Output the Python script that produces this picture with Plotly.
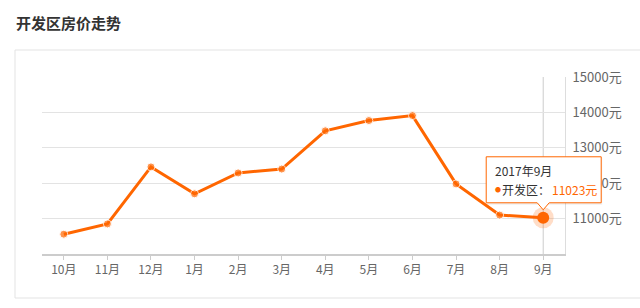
import plotly.graph_objects as go

months = ["10月", "11月", "12月", "1月", "2月", "3月", "4月", "5月", "6月", "7月", "8月", "9月"]
prices = [10560, 10850, 12460, 11700, 12290, 12400, 13480, 13770, 13910, 11980, 11100, 11023]
y_ticks = [11000, 12000, 13000, 14000, 15000]
y_tick_text = ["11000元", "12000元", "13000元", "14000元", "15000元"]
title_text = "开发区房价走势"
tip_date = "2017年9月"
tip_name = "开发区："

ORANGE = "#ff6600"
FONT = "Noto Sans CJK SC, Microsoft YaHei, sans-serif"

W, H = 640, 308
L, R, T, B = 42, 75, 77, 54
pw, ph = W - L - R, H - T - B
Y_MIN, Y_MAX = 10000, 15000

def px_x(p):
    return (p - L) / pw

def px_y(p):
    return (H - B - p) / ph

n = len(months)
hi = n - 1
# tooltip anchor in paper coordinates, derived from the data point
ax_paper = (hi + 0.5) / n
ay_paper = (prices[hi] - Y_MIN) / (Y_MAX - Y_MIN)

fig = go.Figure()
fig.add_trace(go.Scatter(
    x=list(range(n)), y=prices, mode="lines+markers",
    line=dict(color=ORANGE, width=3),
    marker=dict(color=ORANGE, size=[8] * hi + [0]),
    hoverinfo="skip", showlegend=False, cliponaxis=False,
))
fig.add_trace(go.Scatter(
    x=[hi], y=[prices[hi]], mode="markers",
    marker=dict(color="rgba(255,102,0,0.22)", size=21),
    hoverinfo="skip", showlegend=False, cliponaxis=False,
))
fig.add_trace(go.Scatter(
    x=[hi], y=[prices[hi]], mode="markers",
    marker=dict(color=ORANGE, size=12),
    hoverinfo="skip", showlegend=False, cliponaxis=False,
))

shapes = []
# card
shapes.append(dict(type="rect", xref="paper", yref="paper",
                   x0=px_x(15), x1=px_x(660), y0=px_y(298), y1=px_y(50),
                   line=dict(color="#e3e3e3", width=1), fillcolor="rgba(0,0,0,0)", layer="below"))
# crosshair
shapes.append(dict(type="line", xref="x", yref="paper", x0=hi, x1=hi, y0=0, y1=1,
                   line=dict(color="#cccccc", width=1), layer="below"))
# tooltip shadow + box with notch
shapes.append(dict(type="path", xref="paper", yref="paper", xsizemode="pixel", ysizemode="pixel",
                   xanchor=ax_paper, yanchor=ay_paper,
                   path="M-56,13 L59,13 L59,60 L-56,60 Z",
                   fillcolor="rgba(0,0,0,0.06)", line=dict(width=0), layer="above"))
shapes.append(dict(type="path", xref="paper", yref="paper", xsizemode="pixel", ysizemode="pixel",
                   xanchor=ax_paper, yanchor=ay_paper,
                   path="M-57,15 L-6,15 L0,8 L6,15 L58,15 L58,61 L-57,61 Z",
                   fillcolor="white", line=dict(color=ORANGE, width=1), layer="above"))

annotations = [
    dict(text="<b>" + title_text + "</b>", xref="paper", yref="paper",
         x=px_x(14), y=px_y(22), xanchor="left", yanchor="middle", showarrow=False,
         font=dict(family=FONT, size=15, color="#333333")),
    dict(text=tip_date, xref="paper", yref="paper", x=ax_paper, y=ay_paper, xshift=-50, yshift=47,
         xanchor="left", yanchor="middle", showarrow=False,
         font=dict(family=FONT, size=12, color="#333333")),
    dict(text="●", xref="paper", yref="paper", x=ax_paper, y=ay_paper, xshift=-50, yshift=28,
         xanchor="left", yanchor="middle", showarrow=False,
         font=dict(family=FONT, size=6, color=ORANGE)),
    dict(text=tip_name, xref="paper", yref="paper", x=ax_paper, y=ay_paper, xshift=-43, yshift=28,
         xanchor="left", yanchor="middle", showarrow=False,
         font=dict(family=FONT, size=12, color="#333333")),
    dict(text="%d元" % prices[hi], xref="paper", yref="paper",
         x=ax_paper, y=ay_paper, xshift=7, yshift=28,
         xanchor="left", yanchor="middle", showarrow=False,
         font=dict(family=FONT, size=12, color=ORANGE)),
]

fig.update_layout(
    width=W, height=H, margin=dict(l=L, r=R, t=T, b=B),
    paper_bgcolor="white", plot_bgcolor="white",
    font=dict(family=FONT, size=12, color="#666666"),
    shapes=shapes, annotations=annotations,
    xaxis=dict(range=[-0.5, hi + 0.5], tickvals=list(range(n)), ticktext=months,
               showgrid=False, zeroline=False, showline=True, linecolor="#cccccc", linewidth=1.5,
               ticks="outside", ticklen=4, tickcolor="#cccccc", fixedrange=True,
               tickfont=dict(family=FONT, size=12, color="#666666")),
    yaxis=dict(range=[Y_MIN, Y_MAX], side="right", tickvals=y_ticks, ticktext=y_tick_text,
               showgrid=True, gridcolor="#e3e3e3", gridwidth=1, zeroline=False,
               showline=True, linecolor="#dddddd", mirror=False, ticks="", fixedrange=True,
               ticklabelstandoff=4,
               tickfont=dict(family=FONT, size=13, color="#666666")),
)

fig.write_html("out.html")
